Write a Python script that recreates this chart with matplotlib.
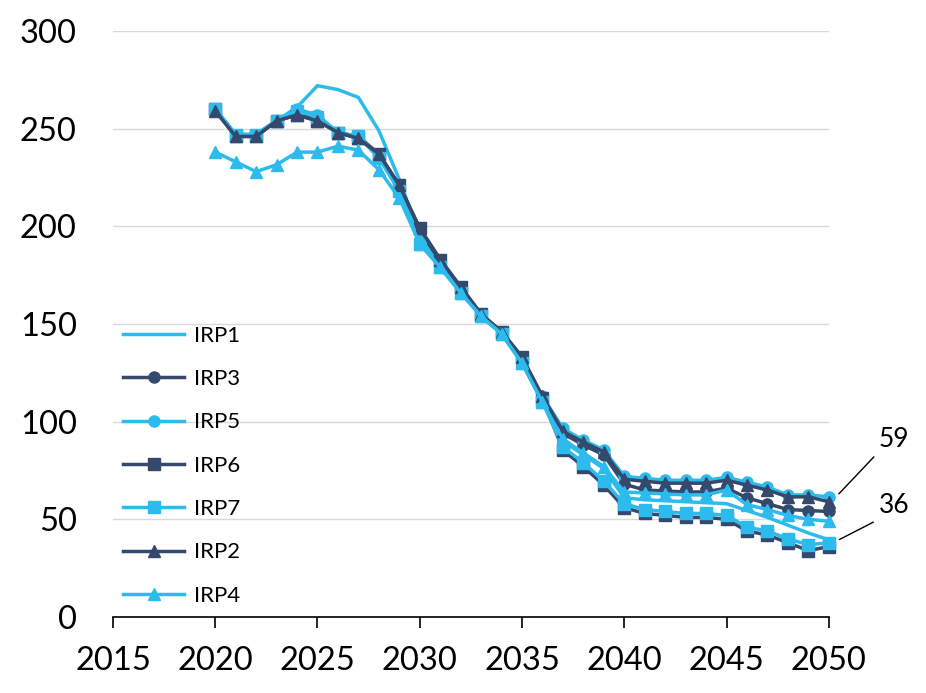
## Imports
import matplotlib
matplotlib.use("Agg")
import matplotlib.pyplot as plt

## Data
years = list(range(2020, 2051))

irp1 = [260, 247, 247, 254, 261, 272, 270, 266, 249, 224,
        195, 180, 167, 154, 145, 131, 111, 90, 83, 76,
        61, 60, 59.5, 59, 58.5, 58, 54.5, 51, 47, 43, 39.5]
irp3 = [260, 246, 247, 254, 258, 255, 248, 246, 237, 221,
        198, 182, 169, 155, 146, 133, 112, 94, 88, 83,
        68, 65, 64.5, 64, 64, 66, 61, 58, 55, 54.5, 54]
irp5 = [260, 247, 247, 254, 260, 257, 248, 246, 236, 219,
        193, 180, 167, 154, 146, 131, 113, 96.5, 90.5, 85.5,
        72, 71, 70, 70, 70, 71.5, 69, 66.5, 62.5, 62.5, 61.5]
irp6 = [260, 246, 246, 254, 257, 254, 248, 245, 237, 221,
        199, 183, 169, 155, 146, 133, 112, 85.5, 77, 67.5,
        56, 53, 52, 51, 51, 50, 44, 42, 38, 34, 36]
irp7 = [260, 247, 247, 254, 259, 256, 248, 246, 235, 218,
        191, 179, 166, 154, 145, 130, 110, 87, 79, 69.5,
        58, 55, 54, 53, 53, 52, 46, 44, 40, 37, 38]
irp2 = [259, 246, 246, 254, 257, 254, 248, 245, 237, 221,
        199, 183, 169, 155, 146, 133, 113, 95, 89.5, 84.5,
        70.5, 69.5, 68.5, 68.5, 68.5, 70, 67.5, 65, 61.5, 61.5, 59]
irp4 = [238, 233, 228, 231.5, 238, 238, 241, 239, 229, 214.5,
        191, 179, 166, 154, 145, 130, 110, 91, 84, 77,
        64, 63.5, 63, 62.5, 62.5, 65, 57.5, 55, 52, 50, 49]

series_names = ["IRP1", "IRP3", "IRP5", "IRP6", "IRP7", "IRP2", "IRP4"]
series_values = [irp1, irp3, irp5, irp6, irp7, irp2, irp4]

x_ticks = [2015, 2020, 2025, 2030, 2035, 2040, 2045, 2050]
y_ticks = [0, 50, 100, 150, 200, 250, 300]

# End-of-line callouts: (label, series value it points to)
callouts = [("59", irp2[-1]), ("36", irp6[-1])]


## Functions
def main():
  """Recreate the IRP line chart and save it as out.png."""
  light = "#2DBBEE"
  dark = "#34496B"
  styles = {
    "IRP1": (light, None),
    "IRP3": (dark, "o"),
    "IRP5": (light, "o"),
    "IRP6": (dark, "s"),
    "IRP7": (light, "s"),
    "IRP2": (dark, "^"),
    "IRP4": (light, "^"),
  }

  plt.rcParams["font.family"] = ["Lato", "DejaVu Sans"]

  fig = plt.figure(figsize=(9.26, 6.93), dpi=100)
  ax = fig.add_axes([0.122, 0.1097, 0.773, 0.8456])

  # Draw each series in legend order (later ones sit on top).
  for name, values in zip(series_names, series_values):
    color, marker = styles[name]
    ax.plot(years, values, color=color, marker=marker, markersize=8,
            linewidth=2.5, label=name, clip_on=False)

  # Axes, ticks and grid.
  ax.set_xlim(2015, 2050)
  ax.set_ylim(0, 300)
  ax.set_xticks(x_ticks)
  ax.set_yticks(y_ticks)
  ax.tick_params(axis="x", labelsize=23.5, length=8, width=1.2, pad=13, direction="out")
  ax.tick_params(axis="y", labelsize=23.5, length=0, pad=26)
  ax.grid(True, axis="y", color="#D9D9D9", linewidth=1.0)
  ax.set_axisbelow(True)
  for side in ["left", "right", "top"]:
    ax.spines[side].set_visible(False)
  ax.spines["bottom"].set_linewidth(1.2)
  ax.spines["bottom"].set_color("black")

  # Legend without frame, on the left side of the plot.
  ax.legend(loc="upper left", bbox_to_anchor=(0.014, 0.497), frameon=False,
            fontsize=16, handlelength=2.75, handletextpad=0.45,
            labelspacing=1.05, borderpad=0, borderaxespad=0)

  # Callouts for the final values.
  offsets = [(2052.3, 83.0), (2052.3, 49.2)]
  for (label, value), (tx, ty) in zip(callouts, offsets):
    ax.annotate("", xy=(2050.4, value + 3), xytext=(tx, ty),
                arrowprops=dict(arrowstyle="-", color="black", linewidth=1.0),
                annotation_clip=False)
    ax.text(tx + 0.9, ty + 8, label, fontsize=19, ha="center", va="center",
            clip_on=False)

  fig.savefig("out.png", dpi=100)


if __name__ == "__main__":
  main()
